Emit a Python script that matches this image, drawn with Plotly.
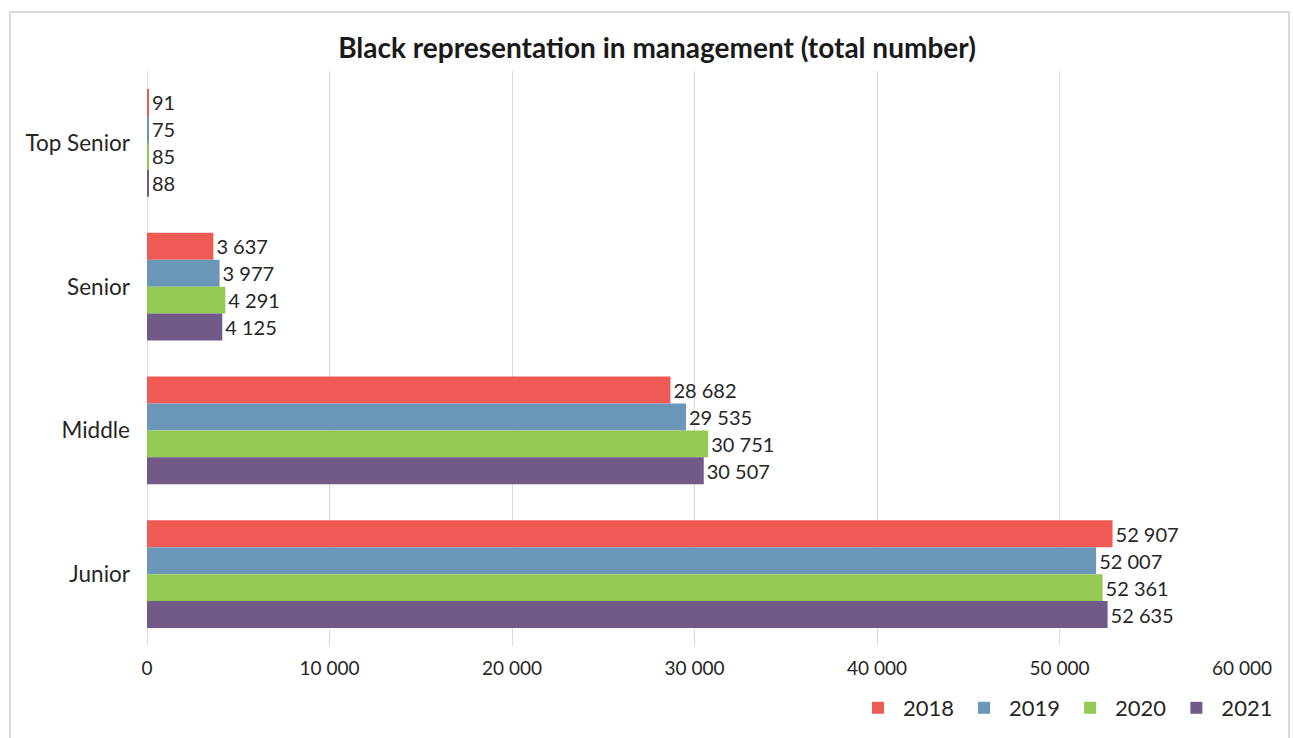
import plotly.graph_objects as go

# Management levels, top to bottom
levels = ["Top Senior", "Senior", "Middle", "Junior"]
years = ["2018", "2019", "2020", "2021"]

# Number of Black employees per level and year
v2018 = [91, 3637, 28682, 52907]
v2019 = [75, 3977, 29535, 52007]
v2020 = [85, 4291, 30751, 52361]
v2021 = [88, 4125, 30507, 52635]
series = [v2018, v2019, v2020, v2021]

colors = ["#F05A55", "#6A97B8", "#94C955", "#715A88"]

x_ticks = [0, 10000, 20000, 30000, 40000, 50000, 60000]

FONT = "Lato"
TEXT = "#262626"

fig = go.Figure()
for name, vals, col in zip(years, series, colors):
    fig.add_trace(go.Bar(
        y=levels, x=vals, name=name, orientation="h",
        marker=dict(color=col, line=dict(width=0)),
        texttemplate="%{x:,d}", textposition="outside",
        textfont=dict(family=FONT, size=20, color=TEXT),
        cliponaxis=False,
    ))

# plot-area geometry used to place the outer frame
W, H = 1293, 738
ml, mr, mt, mb = 147, 51, 71, 92
pw, ph = W - ml - mr, H - mt - mb

fig.update_layout(
    width=W, height=H,
    margin=dict(l=ml, r=mr, t=mt, b=mb, autoexpand=False),
    paper_bgcolor="white", plot_bgcolor="white",
    separators=". ",
    barmode="group", bargap=0.25, bargroupgap=0,
    title=dict(text="<b>Black representation in management (total number)</b>",
               x=657 / W, xanchor="center", y=1 - 48 / H, yanchor="middle",
               font=dict(family=FONT, size=28, color="#1a1a1a")),
    font=dict(family=FONT, size=20, color=TEXT),
    xaxis=dict(range=[0, 60000], tickvals=x_ticks, tickformat=",d",
               showgrid=True, gridcolor="#d9d9d9", gridwidth=1,
               zeroline=True, zerolinecolor="#d9d9d9", zerolinewidth=1,
               showline=False, ticks="", ticklabelstandoff=9,
               tickfont=dict(family=FONT, size=19, color=TEXT)),
    yaxis=dict(categoryorder="array", categoryarray=levels, autorange="reversed",
               showgrid=False, showline=False, ticks="", ticklabelstandoff=16,
               tickfont=dict(family=FONT, size=22.5, color=TEXT)),
    legend=dict(orientation="h", xref="container", yref="container",
                x=1278 / W, xanchor="right", y=1 - 708 / H, yanchor="middle",
                font=dict(family=FONT, size=22, color=TEXT), itemwidth=40,
                traceorder="normal"),
    shapes=[dict(type="rect", xref="paper", yref="paper",
                 x0=(10 - ml) / pw, x1=(1289 - ml) / pw,
                 y0=(H - mb - 745) / ph, y1=(H - mb - 12) / ph,
                 line=dict(color="#d9d9d9", width=2), fillcolor="rgba(0,0,0,0)",
                 layer="below")],
)

fig.write_html("out.html")
